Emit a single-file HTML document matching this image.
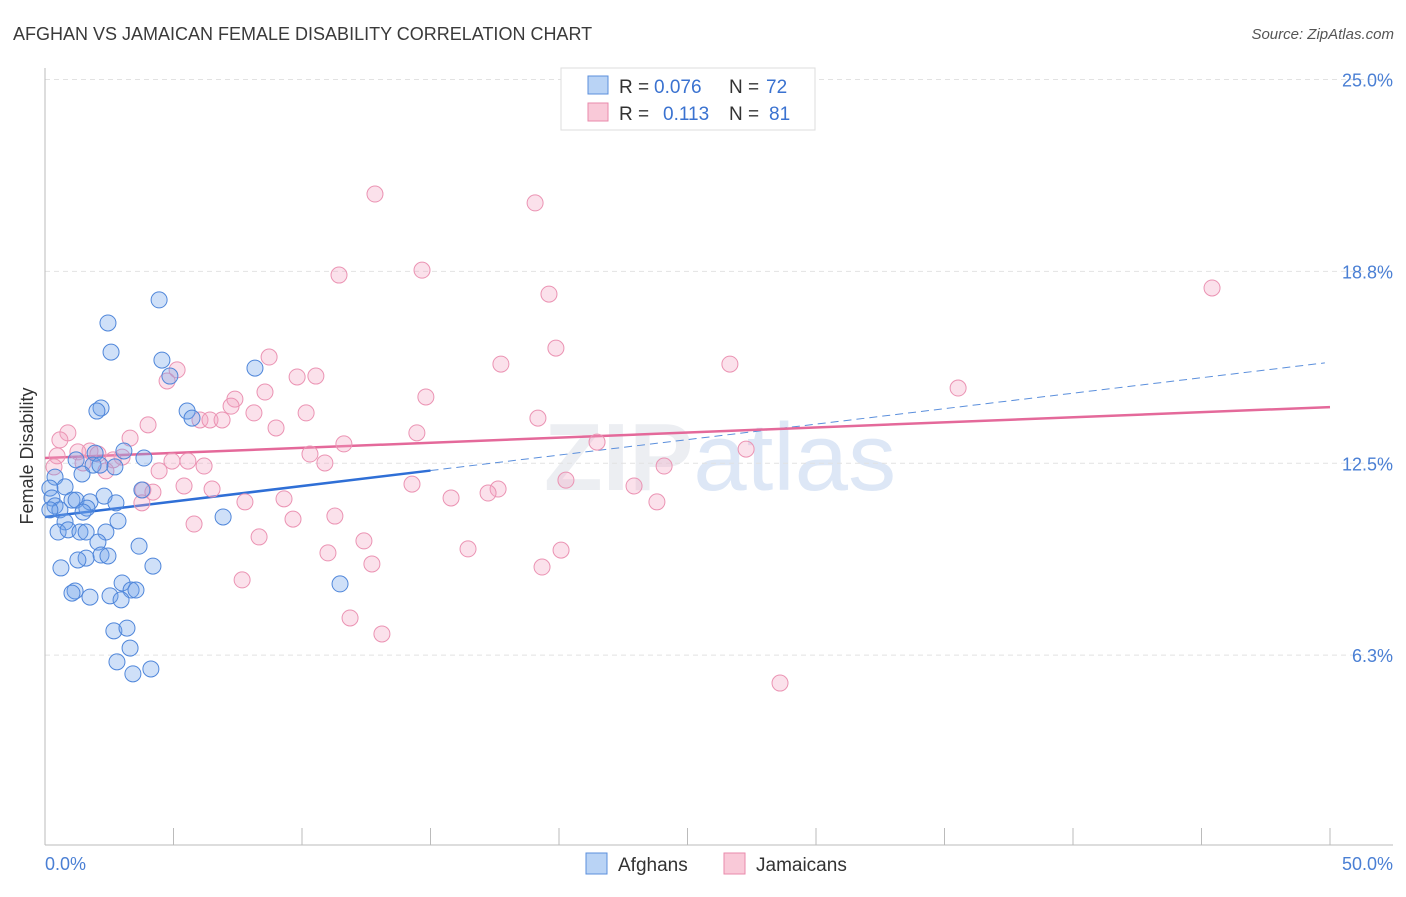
<!DOCTYPE html>
<html><head><meta charset="utf-8"><style>
body{margin:0;background:#fff;font-family:"Liberation Sans",sans-serif;}
svg text{font-family:"Liberation Sans",sans-serif;}
</style></head><body>
<svg id="chart" width="1406" height="892" viewBox="0 0 1406 892" xmlns="http://www.w3.org/2000/svg">
<text x="13" y="40" font-size="18" fill="#3a3a3a">AFGHAN VS JAMAICAN FEMALE DISABILITY CORRELATION CHART</text>
<text x="1394" y="39" font-size="15" fill="#555" font-style="italic" text-anchor="end">Source: ZipAtlas.com</text>
<text x="720" y="490" font-size="96" fill="#eceef2" text-anchor="middle" font-family="Liberation Serif" font-weight="bold">ZIP<tspan fill="#dde7f6" font-family="Liberation Sans" font-weight="normal">atlas</tspan></text>
<g id="grid"></g>
<g id="axes"></g>
<g id="trends"></g>
<g id="points"></g>
<text transform="translate(33,456) rotate(-90)" font-size="18" fill="#333" text-anchor="middle">Female Disability</text>
<text x="45" y="870" font-size="18" fill="#4a7fd4">0.0%</text>
<text x="1393" y="870" font-size="18" fill="#4a7fd4" text-anchor="end">50.0%</text>
<g>
<rect x="561" y="68" width="254" height="62" fill="#fff" stroke="#ddd"/>
<rect x="588" y="76" width="20" height="18" fill="#b9d3f5" stroke="#5b8fdc"/>
<text x="619" y="93" font-size="19" fill="#333">R =</text>
<text x="654" y="93" font-size="19" fill="#3a72d0">0.076</text>
<text x="729" y="93" font-size="19" fill="#333">N =</text>
<text x="766" y="93" font-size="19" fill="#3a72d0">72</text>
<rect x="588" y="103" width="20" height="18" fill="#f9c9d8" stroke="#e98aab"/>
<text x="619" y="120" font-size="19" fill="#333">R =</text>
<text x="663" y="120" font-size="19" fill="#3a72d0">0.113</text>
<text x="729" y="120" font-size="19" fill="#333">N =</text>
<text x="769" y="120" font-size="19" fill="#3a72d0">81</text>
</g>
<g>
<rect x="586" y="853" width="21" height="21" fill="#b9d3f5" stroke="#5b8fdc"/>
<text x="618" y="871" font-size="19" fill="#333">Afghans</text>
</g>
<g>
<rect x="724" y="853" width="21" height="21" fill="#f9c9d8" stroke="#e98aab"/>
<text x="756" y="871" font-size="19" fill="#333">Jamaicans</text>
</g>
</svg>
<script>
const yTicks=[25,18.75,12.5,6.25];
const yTickLabels=["25.0%","18.8%","12.5%","6.3%"];
const xTicks=[0,5,10,15,20,25,30,35,40,45,50];
const afghanX=[4.44,2.45,2.57,4.55,8.17,4.86,2.18,2.02,5.53,5.72,3.07,1.95,3.85,1.21,1.87,2.14,2.72,1.44,0.39,0.78,0.19,3.77,0.27,2.30,1.05,1.21,1.75,2.76,0.39,1.63,0.58,1.48,0.19,6.93,0.78,2.84,0.51,0.90,1.36,1.60,2.37,2.06,3.66,2.18,2.45,1.60,1.28,0.62,4.20,3.00,11.48,3.35,3.54,1.17,1.05,1.75,2.53,2.96,2.68,3.19,3.31,2.80,4.12,3.42];
const afghanY=[17.82,17.07,16.12,15.86,15.60,15.34,14.30,14.20,14.20,13.97,12.90,12.83,12.67,12.61,12.44,12.44,12.38,12.15,12.05,11.73,11.69,11.63,11.37,11.43,11.30,11.30,11.24,11.21,11.11,11.04,10.98,10.91,10.98,10.75,10.59,10.62,10.26,10.33,10.26,10.26,10.26,9.93,9.80,9.51,9.48,9.41,9.35,9.09,9.15,8.60,8.57,8.37,8.37,8.34,8.27,8.14,8.18,8.05,7.04,7.13,6.48,6.03,5.80,5.64];
const jamaicanX=[12.84,19.07,14.67,11.44,19.61,45.41,19.88,8.72,26.65,17.74,9.81,10.54,5.14,4.75,35.53,8.56,14.82,7.39,7.24,8.13,10.16,19.18,6.03,6.42,6.89,4.01,8.99,14.47,0.89,0.58,3.31,11.63,21.48,27.28,10.31,1.75,1.28,0.47,2.06,3.00,2.65,5.56,4.94,1.48,6.19,10.89,0.35,24.09,4.44,2.37,20.27,14.28,5.41,22.92,6.50,3.81,17.63,17.24,4.20,15.80,9.30,7.78,3.77,23.81,11.28,9.65,5.80,8.33,12.41,16.46,20.08,11.01,12.72,19.34,7.67,11.87,13.11,28.60];
const jamaicanY=[21.27,20.98,18.79,18.63,18.01,18.21,16.25,15.96,15.73,15.73,15.31,15.34,15.54,15.18,14.95,14.82,14.66,14.59,14.36,14.14,14.14,13.97,13.91,13.91,13.91,13.75,13.65,13.49,13.49,13.26,13.32,13.13,13.19,12.96,12.80,12.90,12.87,12.74,12.80,12.70,12.61,12.57,12.57,12.51,12.41,12.51,12.38,12.41,12.25,12.25,11.95,11.82,11.76,11.76,11.66,11.63,11.66,11.53,11.56,11.37,11.34,11.24,11.21,11.24,10.78,10.68,10.52,10.10,9.97,9.71,9.67,9.58,9.22,9.12,8.70,7.46,6.94,5.34];
const afghanTrend=[10.75,0.1008];
const jamaicanTrend=[12.67,0.0332];
const NS="http://www.w3.org/2000/svg";
const X0=45,X1=1330,Y0=847;
function sx(v){return X0+v*(X1-X0)/50;}
function sy(v){return Y0-v*30.7;}
function mk(tag,attrs,parent){const e=document.createElementNS(NS,tag);for(const k in attrs)e.setAttribute(k,attrs[k]);parent.appendChild(e);return e;}
const grid=document.getElementById('grid'),axes=document.getElementById('axes');
yTicks.forEach((t,i)=>{
  const l=mk('line',{x1:45,x2:1393,y1:sy(t),y2:sy(t),stroke:'#e2e2e2','stroke-dasharray':'5,4'},grid);
  
  
  const tx=mk('text',{x:1393,y:sy(t)+7,'font-size':18,fill:'#4a7fd4','text-anchor':'end'},grid);
  tx.textContent=yTickLabels[i];
  
  
});
const ya=mk('line',{x1:45,x2:45,y1:68,y2:845,stroke:'#bbb'},axes);


const xa=mk('line',{x1:45,x2:1393,y1:845,y2:845,stroke:'#bbb'},axes);


xTicks.forEach(t=>{
  const l=mk('line',{x1:sx(t),x2:sx(t),y1:828,y2:845,stroke:'#bbb'},axes);
  
  
});
const tr=document.getElementById('trends');
const a1=mk('line',{x1:sx(0),y1:sy(afghanTrend[0]),x2:sx(15),y2:sy(afghanTrend[0]+afghanTrend[1]*15),stroke:'#2f6fd6','stroke-width':2.5},tr);


const a2=mk('line',{x1:sx(15),y1:sy(afghanTrend[0]+afghanTrend[1]*15),x2:sx(49.8),y2:sy(afghanTrend[0]+afghanTrend[1]*49.8),stroke:'#5b8fdc','stroke-width':1,'stroke-dasharray':'8,5'},tr);


const j1=mk('line',{x1:sx(0),y1:sy(jamaicanTrend[0]),x2:sx(50),y2:sy(jamaicanTrend[0]+jamaicanTrend[1]*50),stroke:'#e4699a','stroke-width':2.5},tr);


const pts=document.getElementById('points');
jamaicanX.forEach((x,i)=>{
  const c=mk('circle',{cx:sx(x),cy:sy(jamaicanY[i]),r:8,fill:'rgba(244,165,195,0.33)',stroke:'#eb93b3','stroke-width':1},pts);
  
  
});
afghanX.forEach((x,i)=>{
  const c=mk('circle',{cx:sx(x),cy:sy(afghanY[i]),r:8,fill:'rgba(110,160,235,0.33)',stroke:'#4f86da','stroke-width':1},pts);
  
  
});
</script>
</body></html>
